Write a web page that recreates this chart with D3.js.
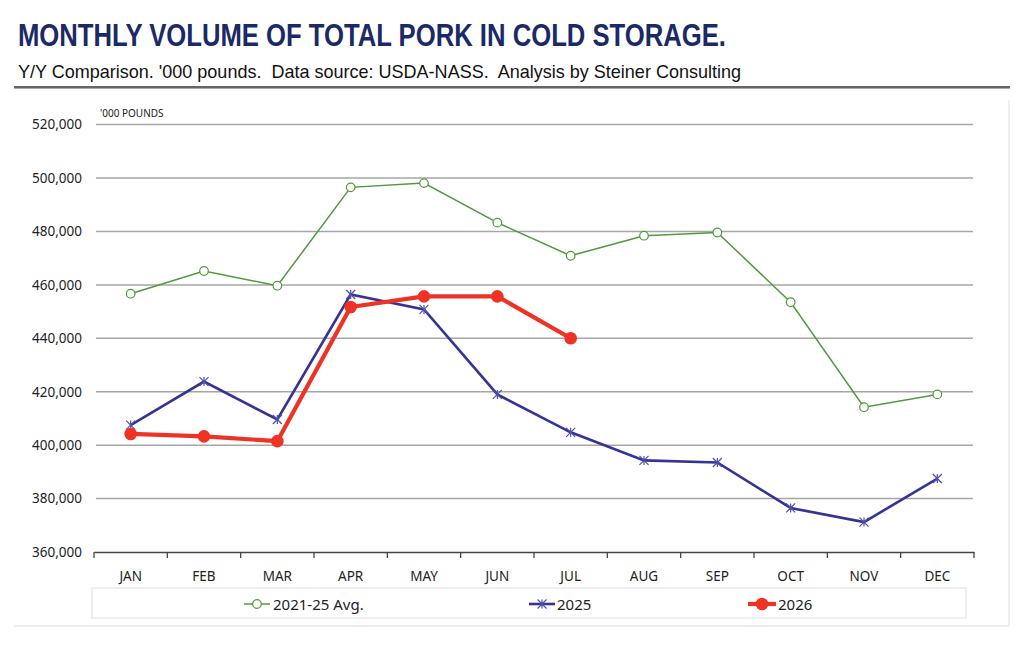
<!DOCTYPE html>
<html><head><meta charset="utf-8">
<script src="https://cdn.jsdelivr.net/npm/d3@7"></script>
<style>body{margin:0;background:#fff}svg{display:block}</style>
</head><body>
<svg id="c" width="1024" height="647"></svg>
<script>
const months = ["JAN","FEB","MAR","APR","MAY","JUN","JUL","AUG","SEP","OCT","NOV","DEC"];
const avg2125 = [456700,465200,459700,496500,498100,483300,470900,478400,479600,453500,414200,419000];
const y2025 = [407500,423800,409600,456400,450800,419000,404800,394300,393500,376500,371200,387500];
const y2026 = [404200,403300,401500,451700,455700,455700,440000];
const yTicks = [360000,380000,400000,420000,440000,460000,480000,500000,520000];
const seriesNames = ["2021-25 Avg.","2025","2026"];

const svg = d3.select("#c");
const font = "'Noto Sans', 'DejaVu Sans', sans-serif";

svg.append("text").attr("x",18).attr("y",46).text("MONTHLY VOLUME OF TOTAL PORK IN COLD STORAGE.")
  .attr("font-family","'Liberation Sans Narrow','Liberation Sans',sans-serif").attr("font-weight","bold")
  .attr("font-size",31).attr("fill","#1b2a66").attr("textLength",708).attr("lengthAdjust","spacingAndGlyphs");
svg.append("text").attr("x",18).attr("y",78).text("Y/Y Comparison. '000 pounds.  Data source: USDA-NASS.  Analysis by Steiner Consulting")
  .attr("font-family","'Liberation Sans Narrow','Liberation Sans',sans-serif").attr("font-size",18.5).attr("fill","#111")
  .attr("textLength",723).attr("lengthAdjust","spacingAndGlyphs").style("white-space","pre");
svg.append("line").attr("x1",14).attr("x2",1010).attr("y1",87).attr("y2",87).attr("stroke","#333").attr("stroke-width",1.5);
svg.append("line").attr("x1",14).attr("x2",1010).attr("y1",88.5).attr("y2",88.5).attr("stroke","#aaa").attr("stroke-width",1);
// chart frame edges
svg.append("line").attr("x1",1009).attr("x2",1009).attr("y1",100).attr("y2",626).attr("stroke","#ddd");
svg.append("line").attr("x1",14).attr("x2",1009).attr("y1",626).attr("y2",626).attr("stroke","#ddd");

const x = d3.scaleBand().domain(months).range([94,974]);
const y = d3.scaleLinear().domain([360000,520000]).range([552,124.6]);
const cx = m => x(m) + x.bandwidth()/2;

// gridlines
svg.append("g").selectAll("line").data(yTicks.slice(1)).join("line")
  .attr("x1",96).attr("x2",973).attr("y1",d=>y(d)).attr("y2",d=>y(d))
  .attr("stroke","#a6a6a6").attr("stroke-width",1.5);

// y axis labels
const yAxis = svg.append("g").attr("transform","translate(96,0)")
  .call(d3.axisLeft(y).tickValues(yTicks).tickSize(0).tickPadding(14).tickFormat(d3.format(",")));
yAxis.select(".domain").remove();
yAxis.selectAll("text").attr("font-family",font).attr("font-size",13.5).attr("fill","#222");

svg.append("text").attr("x",100).attr("y",117).text("'000 POUNDS")
  .attr("font-family",font).attr("font-size",10).attr("fill","#222");

// x axis
const xAxis = svg.append("g").attr("transform","translate(0,552)")
  .call(d3.axisBottom(x).tickSizeInner(0).tickSizeOuter(0).tickPadding(19));
xAxis.select(".domain").attr("stroke","#444").attr("stroke-width",1.3);
xAxis.selectAll("text").attr("font-family",font).attr("font-size",13.5).attr("fill","#222");
svg.append("g").selectAll("line").data(d3.range(13)).join("line")
  .attr("x1",i=>94+i*x.step()).attr("x2",i=>94+i*x.step()).attr("y1",552).attr("y2",558)
  .attr("stroke","#444").attr("stroke-width",1.3);

const line = d3.line().x((d,i)=>cx(months[i])).y(d=>y(d));

// green avg
svg.append("path").datum(avg2125).attr("d",line).attr("fill","none").attr("stroke","#4e9a3c").attr("stroke-width",1.5);
svg.append("g").selectAll("circle").data(avg2125).join("circle")
  .attr("cx",(d,i)=>cx(months[i])).attr("cy",d=>y(d)).attr("r",4.3)
  .attr("fill","#fff").attr("stroke","#4e9a3c").attr("stroke-width",1.2);

// blue 2025
const star = (g, px, py, s) => {
  g.append("path").attr("d",`M${px-s},${py-s}L${px+s},${py+s}M${px-s},${py+s}L${px+s},${py-s}M${px},${py-s}L${px},${py+s}`)
   .attr("stroke","#5050b0").attr("stroke-width",1.2).attr("fill","none");
};
svg.append("path").datum(y2025).attr("d",line).attr("fill","none").attr("stroke","#343495").attr("stroke-width",2.6);
const sg = svg.append("g");
y2025.forEach((d,i)=>star(sg, cx(months[i]), y(d), 4.5));

// red 2026
svg.append("path").datum(y2026).attr("d",line).attr("fill","none").attr("stroke","#ee3224").attr("stroke-width",4.2).attr("stroke-linejoin","round");
svg.append("g").selectAll("circle").data(y2026).join("circle")
  .attr("cx",(d,i)=>cx(months[i])).attr("cy",d=>y(d)).attr("r",6.3).attr("fill","#ee3224");

// legend
svg.append("rect").attr("x",92).attr("y",588).attr("width",874).attr("height",30)
  .attr("fill","#fff").attr("stroke","#e0e0e0");
const lg = svg.append("g");
const ly = 604;
lg.append("line").attr("x1",244).attr("x2",270).attr("y1",ly).attr("y2",ly).attr("stroke","#4e9a3c").attr("stroke-width",1.5);
lg.append("circle").attr("cx",257).attr("cy",ly).attr("r",4.3).attr("fill","#fff").attr("stroke","#4e9a3c").attr("stroke-width",1.2);
lg.append("line").attr("x1",529).attr("x2",555).attr("y1",ly).attr("y2",ly).attr("stroke","#343495").attr("stroke-width",2.6);
star(lg,542,ly,4.5);
lg.append("line").attr("x1",748).attr("x2",776).attr("y1",ly).attr("y2",ly).attr("stroke","#ee3224").attr("stroke-width",4.2);
lg.append("circle").attr("cx",762).attr("cy",ly).attr("r",6.3).attr("fill","#ee3224");
[[273,seriesNames[0]],[557,seriesNames[1]],[778,seriesNames[2]]].forEach(([tx,t])=>{
  lg.append("text").attr("x",tx).attr("y",ly+5.5).text(t).attr("font-family",font).attr("font-size",15).attr("fill","#222");
});
</script>
</body></html>
